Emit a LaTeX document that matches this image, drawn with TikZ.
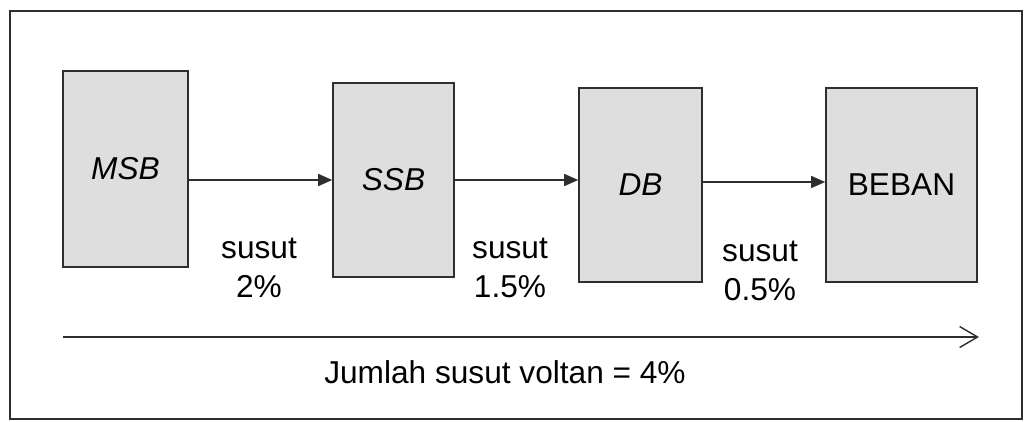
\documentclass[tikz,border=0pt]{standalone}
\usepackage{fontspec}
\setmainfont{Liberation Sans}
\usetikzlibrary{arrows.meta, positioning}

\definecolor{boxgray}{HTML}{DEDEDE}
\definecolor{linegray}{HTML}{2E2E2E}

\tikzset{
    board/.style={draw=linegray, line width=0.9pt, fill=boxgray, inner sep=0pt},
    loss/.style={align=center, font=\fontsize{18}{22}\selectfont},
    feed/.style={draw=linegray, line width=0.8pt, -{Triangle[length=0.28cm, width=0.24cm]}},
}

\begin{document}
\begin{tikzpicture}[font=\fontsize{18}{21}\selectfont]
    \useasboundingbox (0, 0) rectangle (20.52, -8.42);
    \draw[linegray, line width=0.9pt] (0.2, -0.22) rectangle (20.44, -8.38);

    \node[board, minimum width=2.5cm, minimum height=3.92cm] (MSB) at (2.51, -3.38) {\itshape MSB};
    \node[board, minimum width=2.42cm, minimum height=3.88cm] (SSB) at (7.87, -3.60) {\itshape SSB};
    \node[board, minimum width=2.46cm, minimum height=3.88cm] (DB) at (12.81, -3.70) {\itshape DB};
    \node[board, minimum width=3.02cm, minimum height=3.88cm] (BEBAN) at (18.03, -3.70) {BEBAN};

    \draw[feed] (MSB.east |- SSB.west) -- (SSB.west);
    \draw[feed] (SSB.east) -- (SSB.east -| DB.west);
    \draw[feed] ([yshift=0.06cm]DB.east) -- ([yshift=0.06cm]BEBAN.west);

    \node[loss] (loss1) at (5.18, -5.36) {susut\\2\%};
    \node[loss] (loss2) at (10.2, -5.36) {susut\\1.5\%};
    \node[loss] (loss3) at (15.2, -5.42) {susut\\0.5\%};

    \coordinate (start) at (1.26, -6.74);
    \coordinate (end) at (19.58, -6.74);
    \draw[linegray, line width=0.8pt, -{Straight Barb[length=0.36cm, width=0.42cm]}] (start) -- (end);

    \node (total) at (10.1, -7.44) {Jumlah susut voltan = 4\%};
\end{tikzpicture}
\end{document}
